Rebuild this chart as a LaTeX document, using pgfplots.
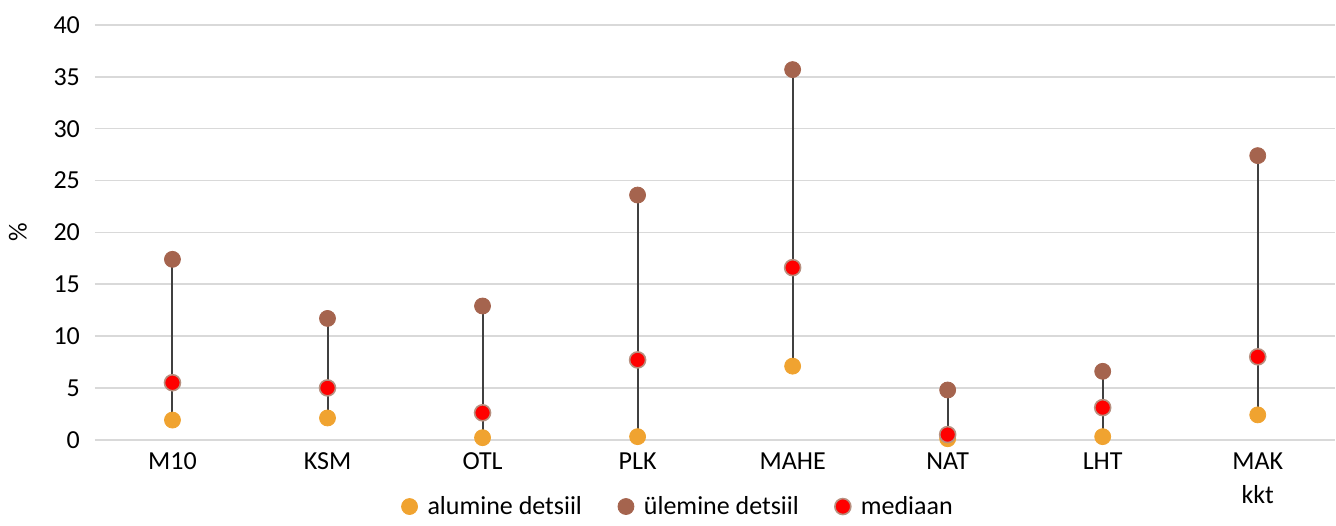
\documentclass[border=0pt]{standalone}
\usepackage{fontspec}
\setmainfont{Carlito}
\usepackage{pgfplots}
\pgfplotsset{compat=1.18}

\definecolor{lowc}{HTML}{F0A330}
\definecolor{upc}{HTML}{A5644E}
\definecolor{medc}{HTML}{FF0000}
\definecolor{medb}{HTML}{B89080}
\definecolor{gridc}{HTML}{D9D9D9}
\definecolor{stemc}{HTML}{404040}

\begin{document}
\begin{tikzpicture}
\begin{axis}[
    at={(0,0)}, anchor=south west,
    scale only axis,
    width=620.5pt, height=207.5pt,
    xmin=-0.5, xmax=7.5,
    ymin=0, ymax=40,
    ytick={0,5,...,40},
    xtick={0,...,7},
    xticklabels={M10,KSM,OTL,PLK,MAHE,NAT,LHT,{MAK\\kkt}},
    xticklabel style={align=center},
    x tick label style={yshift=-3pt},
    yticklabel style={xshift=-4pt},
    major tick length=0pt,
    axis y line*=left,
    y axis line style={draw=none},
    axis x line*=bottom,
    x axis line style={draw=gridc, line width=0.75pt, -},
    ymajorgrids,
    grid style={draw=gridc, line width=0.75pt},
    ylabel={\%},
    ylabel style={at={(rel axis cs:0,0.5)}, anchor=center, yshift=38.5pt},
    tick label style={font=\fontsize{13}{17}\selectfont, text=black},
    label style={font=\fontsize{13}{17}\selectfont},
    /pgf/number format/assume math mode=true,
    unbounded coords=jump,
    legend columns=3,
    legend style={draw=none, fill=none, at={(0.471,-0.161)}, anchor=center,
        font=\fontsize{13}{15}\selectfont,
        /tikz/every odd column/.append style={column sep=3pt},
        /tikz/every even column/.append style={column sep=16pt}},
    legend cell align=left,
    clip=false,
]
% stems from lower to upper decile
\addplot[stemc, line width=1pt, forget plot] coordinates {
    (0,1.9) (0,17.4) (0,nan)
    (1,2.1) (1,11.7) (1,nan)
    (2,0.2) (2,12.9) (2,nan)
    (3,0.3) (3,23.6) (3,nan)
    (4,7.1) (4,35.7) (4,nan)
    (5,0.1) (5,4.8) (5,nan)
    (6,0.3) (6,6.6) (6,nan)
    (7,2.4) (7,27.4)
};
\addplot[only marks, mark=*, mark size=4pt, draw=lowc, fill=lowc] coordinates {
    (0,1.9) (1,2.1) (2,0.2) (3,0.3) (4,7.1) (5,0.1) (6,0.3) (7,2.4)
};
\addplot[only marks, mark=*, mark size=4pt, draw=upc, fill=upc] coordinates {
    (0,17.4) (1,11.7) (2,12.9) (3,23.6) (4,35.7) (5,4.8) (6,6.6) (7,27.4)
};
\addplot[only marks, mark=*, mark size=4pt, draw=medb, fill=medc, mark options={line width=0.8pt}] coordinates {
    (0,5.5) (1,5.0) (2,2.6) (3,7.7) (4,16.6) (5,0.5) (6,3.1) (7,8.0)
};
\legend{alumine detsiil, ülemine detsiil, mediaan}
\end{axis}
\useasboundingbox (-47.5pt,-38.5pt) rectangle (620.5pt,220pt);
\end{tikzpicture}
\end{document}
